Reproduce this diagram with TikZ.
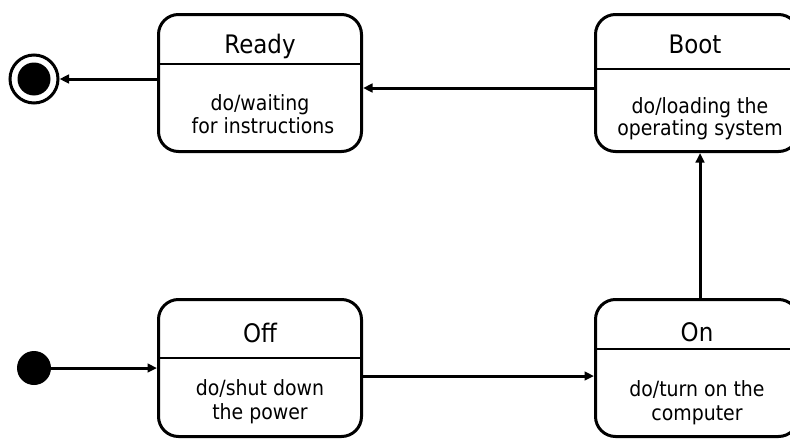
\documentclass[tikz,border=0pt]{standalone}
\usepackage{fontspec}
\setmainfont{DejaVu Sans Condensed}
\usetikzlibrary{arrows.meta}
\begin{document}
\begin{tikzpicture}[x=1pt,y=-1pt,
  statebox/.style={draw, line width=3pt, rounded corners=20pt,
    minimum width=203pt, minimum height=137pt, inner sep=0pt},
  divider/.style={line width=1.8pt},
  statename/.style={font=\fontsize{25.5}{29}\selectfont, inner sep=0pt, anchor=base},
  activity/.style={font=\fontsize{21}{24}\selectfont, inner sep=0pt, anchor=base},
  flow/.style={line width=3pt, -{Triangle[length=9.5pt,width=8.5pt]}},
]
\useasboundingbox (0,0) rectangle (790,439);

% state boxes
\node[statebox] (ready) at (260,83) {};
\node[statebox] (boot)  at (697,83) {};
\node[statebox] (off)   at (260,368) {};
\node[statebox] (on)    at (697,368) {};

% compartment dividers
\draw[divider] (ready.west |- 0,64)  -- (ready.east |- 0,64);
\draw[divider] (boot.west |- 0,69)   -- (boot.east |- 0,69);
\draw[divider] (off.west |- 0,358)   -- (off.east |- 0,358);
\draw[divider] (on.west |- 0,349)    -- (on.east |- 0,349);

% state names
\node[statename] (readyname) at (260,53)  {Ready};
\node[statename] (bootname)  at (695,53)  {Boot};
\node[statename] (offname)   at (260,342) {Off};
\node[statename] (onname)    at (697,341) {On};

% do-activities
\node[activity] (readydoa) at (260,110) {do/waiting};
\node[activity] (readydob) at (263,133) {for instructions};
\node[activity] (bootdoa)  at (700,113) {do/loading the};
\node[activity] (bootdob)  at (700,135) {operating system};
\node[activity] (offdoa)   at (260,395) {do/shut down};
\node[activity] (offdob)   at (260,419) {the power};
\node[activity] (ondoa)    at (697,396) {do/turn on the};
\node[activity] (ondob)    at (697,420) {computer};

% pseudo-states
\node[circle, fill, minimum size=34pt, inner sep=0pt] (init) at (34,368) {};
\node[circle, draw, line width=3pt, minimum size=48pt, inner sep=0pt] (final) at (34,79) {};
\fill (final.center) circle (16.5pt);

% transitions
\draw[flow] (init) -- (off);
\draw[flow] (off.east |- 0,376) -- (on.west |- 0,376);
\draw[flow] (on.north -| 700,0) -- (boot.south -| 700,0);
\draw[flow] (boot.west |- 0,88) -- (ready.east |- 0,88);
\draw[flow] (ready.west |- 0,79) -- (final);
\end{tikzpicture}
\end{document}
